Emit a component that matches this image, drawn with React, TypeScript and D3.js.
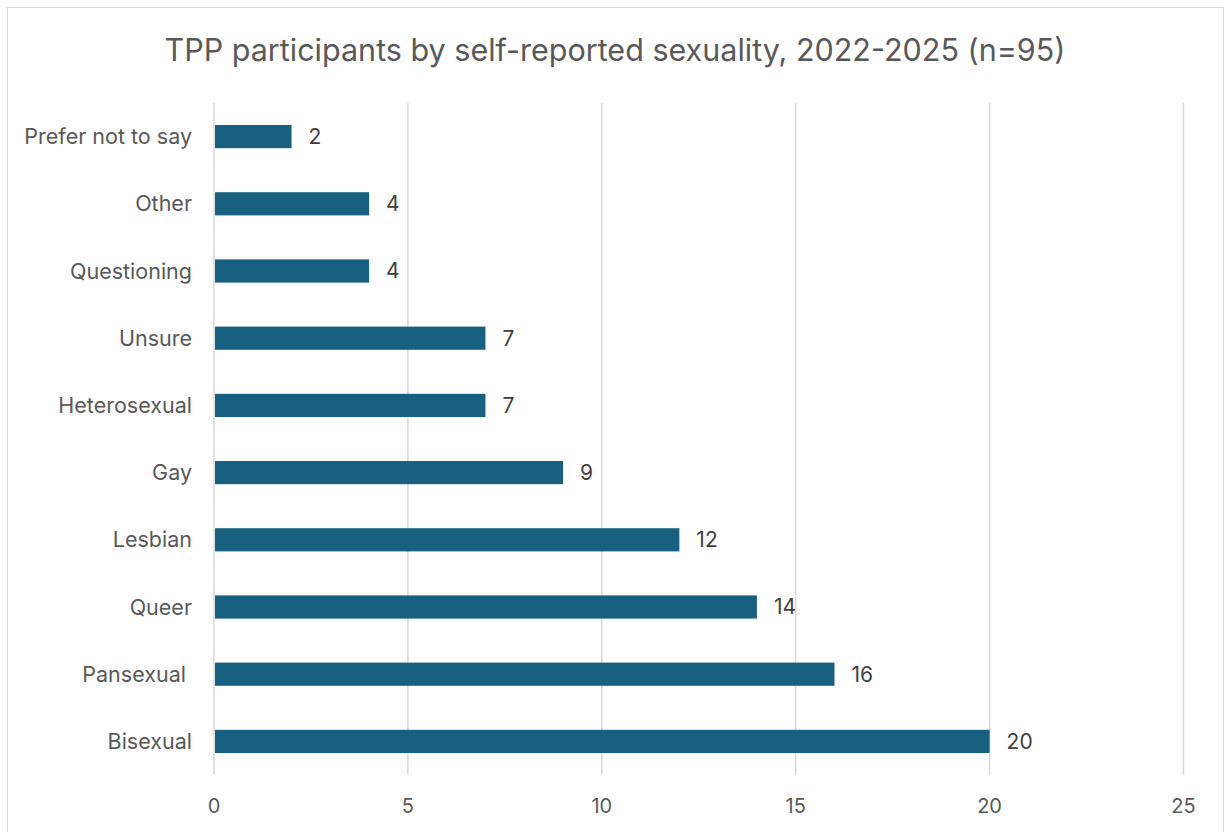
import React from "react";
import * as d3 from "d3";

const categories = ["Prefer not to say", "Other", "Questioning", "Unsure", "Heterosexual", "Gay", "Lesbian", "Queer", "Pansexual ", "Bisexual"];
const values = [2, 4, 4, 7, 7, 9, 12, 14, 16, 20];
const xTicks = [0, 5, 10, 15, 20, 25];
const title = "TPP participants by self-reported sexuality, 2022-2025 (n=95)";

const W = 1225, H = 832;
const FONT = "Inter, 'Open Sans', 'Liberation Sans', sans-serif";

export default function App() {
  const x = d3.scaleLinear().domain([0, 25]).range([214, 1183.5]);
  const y = d3.scaleBand<string>().domain(categories).range([103, 775]).paddingInner(0.655).paddingOuter(0.3275);
  return (
    <svg width={W} height={H} style={{ position: "absolute", left: 0, top: 0 }}>
      <rect x={0} y={0} width={W} height={H} fill="#fff" />
      <rect x={7.5} y={7.5} width={1216} height={840} fill="none" stroke="#d9d9d9" strokeWidth={1} />
      <text x={615} y={61} textAnchor="middle" fontFamily={FONT} fontSize={30.5} fill="#595959">{title}</text>
      {xTicks.map((t) => (
        <g key={t}>
          <line x1={x(t)} x2={x(t)} y1={103} y2={775} stroke="#d9d9d9" strokeWidth={1.5} />
          <text x={x(t)} y={813} textAnchor="middle" fontFamily={FONT} fontSize={20} fill="#595959">{t}</text>
        </g>
      ))}
      {categories.map((c, i) => (
        <g key={c}>
          <rect x={x(0) + 1} y={y(c)!} width={x(values[i]) - x(0) - 1} height={y.bandwidth()} fill="#17607f" />
          <text x={192} y={y(c)! + y.bandwidth() / 2} dy="0.35em" textAnchor="end" fontFamily={FONT} fontSize={21.5} fill="#595959" style={{ whiteSpace: "pre" }}>{c}</text>
          <text x={x(values[i]) + 17} y={y(c)! + y.bandwidth() / 2} dy="0.35em" textAnchor="start" fontFamily={FONT} fontSize={21} fill="#404040">{values[i]}</text>
        </g>
      ))}
    </svg>
  );
}
